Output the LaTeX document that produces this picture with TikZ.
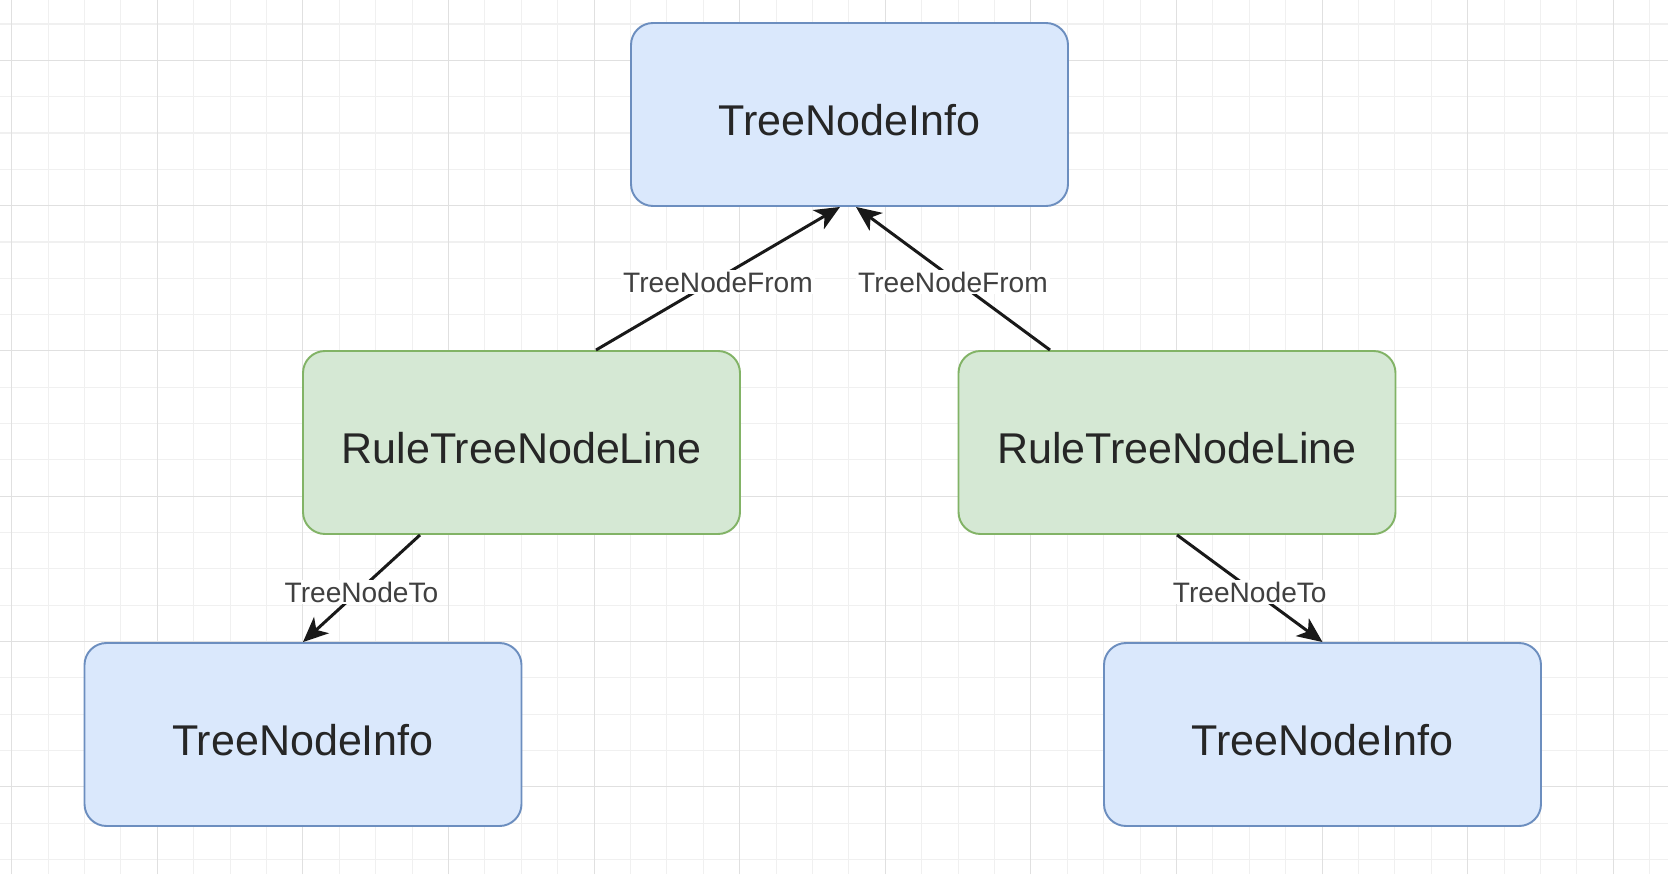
\documentclass[tikz,border=0pt]{standalone}
\usepackage{fontspec}
\setmainfont{Liberation Sans}
\usetikzlibrary{positioning, arrows.meta}

\definecolor{infofill}{HTML}{DAE8FC}
\definecolor{infoline}{HTML}{6C8EBF}
\definecolor{rulefill}{HTML}{D5E8D4}
\definecolor{ruleline}{HTML}{82B366}
\definecolor{gridminor}{HTML}{F0F0F0}
\definecolor{gridmajor}{HTML}{E0E0E0}

\begin{document}
\begin{tikzpicture}[
    box/.style={rounded corners=0.44cm, line width=1.1pt, minimum width=8.74cm, minimum height=3.66cm, inner sep=0pt, text height=23.5pt, text depth=0pt, font=\fontsize{24.5}{29}\selectfont, text=black!85},
    infobox/.style={box, draw=infoline, fill=infofill},
    rulebox/.style={box, draw=ruleline, fill=rulefill},
    link/.style={line width=1.7pt, draw=black!90, -{Stealth[length=0.5cm, width=0.44cm, inset=0.14cm]}},
    linklabel/.style={fill=white, inner sep=1pt, yshift=-2pt, font=\fontsize{16}{19}\selectfont, text=black!75}
]
    \fill[white] (0,0) rectangle (33.36,17.48);
    \useasboundingbox (0,0) rectangle (33.36,17.48);
    \foreach \i in {0,...,45}
        \draw[gridminor, line width=0.6pt] ({0.234+\i*0.728},0) -- ({0.234+\i*0.728},17.48);
    \foreach \j in {0,...,23}
        \draw[gridminor, line width=0.6pt] (0,{17.0-\j*0.7266}) -- (33.36,{17.0-\j*0.7266});
    \foreach \i in {0,4,...,44}
        \draw[gridmajor, line width=0.6pt] ({0.234+\i*0.728},0) -- ({0.234+\i*0.728},17.48);
    \foreach \j in {1,5,...,21}
        \draw[gridmajor, line width=0.6pt] (0,{17.0-\j*0.7266}) -- (33.36,{17.0-\j*0.7266});

    \node[infobox] (info) at (16.99,15.19) {TreeNodeInfo};
    \node[rulebox] (lineL) at (10.43,8.63) {RuleTreeNodeLine};
    \node[rulebox] (lineR) at (23.54,8.63) {RuleTreeNodeLine};
    \node[infobox] (infoL) at (6.06,2.79) {TreeNodeInfo};
    \node[infobox] (infoR) at (26.45,2.79) {TreeNodeInfo};

    \draw[link] ([xshift=1.49cm]lineL.north) -- node[linklabel] {TreeNodeFrom} ([xshift=-0.19cm]info.south);
    \draw[link] ([xshift=-2.54cm]lineR.north) -- node[linklabel] {TreeNodeFrom} ([xshift=0.13cm]info.south);
    \draw[link] ([xshift=-2.03cm]lineL.south) -- node[linklabel] {TreeNodeTo} (infoL.north);
    \draw[link] (lineR.south) -- node[linklabel] {TreeNodeTo} (infoR.north);
\end{tikzpicture}
\end{document}
